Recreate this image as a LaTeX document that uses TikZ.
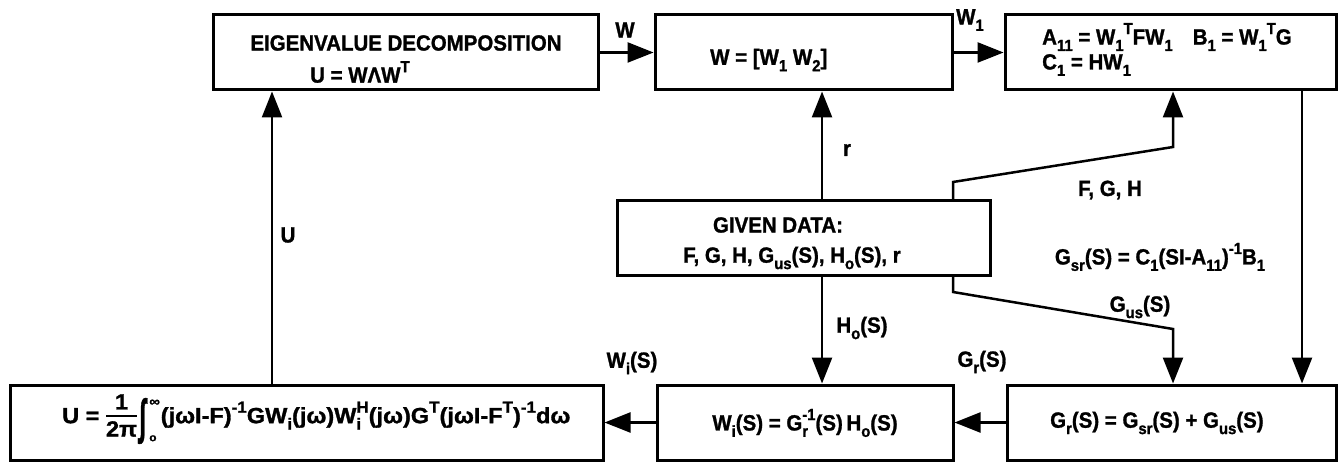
\documentclass[tikz,border=0pt]{standalone}
\usepackage{fontspec}
\setmainfont{Liberation Sans Bold}[FakeStretch=0.93,FakeBold=1.2]
\usetikzlibrary{arrows.meta}
\newcommand\dn[1]{\raisebox{-0.55ex}{\fontsize{16}{16}\selectfont #1}}
\newcommand\up[1]{\raisebox{0.9ex}{\fontsize{16}{16}\selectfont #1}}
\newcommand\frc{{\setlength\arrayrulewidth{1.6pt}\begin{tabular}[c]{@{}c@{}}1\\[-2pt]\hline\rule{0pt}{20pt}2π\end{tabular}}}
\newcommand\integ{\hspace{2pt}\raisebox{-10pt}{\scalebox{1}[2.2]{∫}}\hspace{3pt}\rlap{\raisebox{17pt}{\fontsize{14}{14}\selectfont ∞}}\makebox[10pt][l]{\raisebox{-18pt}{\fontsize{11}{11}\selectfont o}}}
\tikzset{
  box/.style={draw, line width=3pt, inner sep=0pt},
  lbl/.style={font=\fontsize{22}{25}\selectfont, inner sep=0pt},
  conn/.style={line width=2.5pt, -{Triangle[length=26pt,width=20pt]}}
}
\begin{document}
\begin{tikzpicture}[x=1pt,y=-1pt]
\useasboundingbox (0,0) rectangle (1339,465);
% boxes
\node[box, minimum width=385pt, minimum height=75pt] (eig) at (405.5,52.5) {};
\node[box, minimum width=297pt, minimum height=75pt] (wbox) at (803.5,52.5) {};
\node[box, minimum width=331pt, minimum height=75pt] (abox) at (1170.5,52.5) {};
\node[box, minimum width=373pt, minimum height=74pt] (given) at (803.5,238) {};
\node[box, minimum width=593pt, minimum height=75pt] (intb) at (306.5,422.5) {};
\node[box, minimum width=296pt, minimum height=75pt] (wib) at (805,422.5) {};
\node[box, minimum width=329pt, minimum height=75pt] (grb) at (1171.5,422.5) {};
% box texts
\node[lbl] (t1) at (406,43) {EIGENVALUE DECOMPOSITION};
\node[lbl, anchor=west] (t2) at (310,72) {U = WΛW\up{T}};
\node[lbl, anchor=west] (t3) at (710,60) {W = [W\dn{1} W\dn{2}]};
\node[lbl, anchor=west] (t4) at (1042,37) {A\dn{11} = W\dn{1}\up{T}FW\dn{1}\hspace{20pt}B\dn{1} = W\dn{1}\up{T}G};
\node[lbl, anchor=west] (t5) at (1042,65) {C\dn{1} = HW\dn{1}};
\node[lbl] (t6) at (778,225) {GIVEN DATA:};
\node[lbl] (t7) at (792,258) {F, G, H, G\dn{us}(S), H\dn{o}(S), r};
\node[lbl, anchor=west] (t8) at (62,418) {\scalebox{1.15}[1]{U = \frc\integ(jωI-F)\up{-1}GW\dn{i}(jω)W\rlap{\dn{i}}\up{H}(jω)G\up{T}(jωI-F\up{T})\up{-1}dω}};
\node[lbl] (t9) at (805,423) {W\dn{i}(S) = G\rlap{\dn{r}}\up{-1}(S)\,H\dn{o}(S)};
\node[lbl, anchor=west] (t10) at (1050,423) {G\dn{r}(S) = G\dn{sr}(S) + G\dn{us}(S)};
% connector labels
\node[lbl] (lw) at (625,30) {W};
\node[lbl] (lw1) at (970,20) {W\dn{1}};
\node[lbl] (lr) at (847,150) {r};
\node[lbl] (lfgh) at (1110,190) {F, G, H};
\node[lbl] (lgsr) at (1160,257) {G\dn{sr}(S) = C\dn{1}(SI-A\dn{11})\up{-1}B\dn{1}};
\node[lbl] (lgus) at (1140,307) {G\dn{us}(S)};
\node[lbl] (lho) at (862,328) {H\dn{o}(S)};
\node[lbl] (lgr) at (982,362) {G\dn{r}(S)};
\node[lbl] (lwi) at (632,363) {W\dn{i}(S)};
\node[lbl] (lu) at (288,235) {U};
% helper coordinates
\coordinate (xr) at (822,0);
\coordinate (xa) at (953,0);
\coordinate (xb) at (1173,0);
\coordinate (xc) at (1302,0);
\coordinate (xu) at (272,0);
\coordinate (f1) at (953,182);
\coordinate (f2) at (1173,147);
\coordinate (g1) at (953,292);
\coordinate (g2) at (1173,329);
% connectors
\draw[conn] (eig.east) -- (wbox.west);
\draw[conn] (wbox.east) -- (abox.west);
\draw[conn] (given.north -| xr) -- (wbox.south -| xr);
\draw[conn] (given.north -| xa) -- (f1) -- (f2) -- (abox.south -| xb);
\draw[conn] (abox.south -| xc) -- (grb.north -| xc);
\draw[conn] (given.south -| xa) -- (g1) -- (g2) -- (grb.north -| xb);
\draw[conn] (given.south -| xr) -- (wib.north -| xr);
\draw[conn] (grb.west) -- (wib.east);
\draw[conn] (wib.west) -- (intb.east);
\draw[conn] (intb.north -| xu) -- (eig.south -| xu);
\end{tikzpicture}
\end{document}
